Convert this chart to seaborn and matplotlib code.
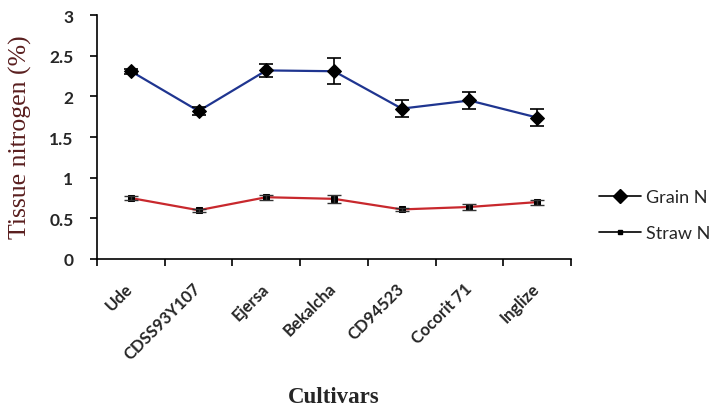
import matplotlib
matplotlib.use("Agg")
import matplotlib.pyplot as plt
import matplotlib.transforms as mtransforms
import seaborn as sns
import pandas as pd
import numpy as np
from matplotlib.lines import Line2D

cultivars = ["Ude", "CDSS93Y107", "Ejersa", "Bekalcha", "CD94523", "Cocorit 71", "Inglize"]
grain_n = [2.31, 1.82, 2.32, 2.31, 1.85, 1.95, 1.74]
grain_err = [0.03, 0.05, 0.08, 0.16, 0.10, 0.10, 0.10]
straw_n = [0.75, 0.60, 0.76, 0.74, 0.61, 0.64, 0.70]
straw_err = [0.02, 0.02, 0.03, 0.05, 0.02, 0.04, 0.03]

sns.set_style("ticks")
plt.rcParams['font.family'] = ['Lato', 'DejaVu Sans']

pos = np.arange(len(cultivars))
df = pd.DataFrame({
    "pos": np.concatenate([pos, pos]),
    "value": grain_n + straw_n,
    "series": ["Grain N"] * len(pos) + ["Straw N"] * len(pos),
})

fig = plt.figure(figsize=(7.15, 4.14), dpi=100)
ax = fig.add_axes([0.1357, 0.372, 0.663, 0.589])

sns.lineplot(data=df[df.series == "Grain N"], x="pos", y="value", ax=ax,
             color="#1f3590", lw=1.6, marker="D", markersize=7,
             markerfacecolor="black", markeredgecolor="black", legend=False)
sns.lineplot(data=df[df.series == "Straw N"], x="pos", y="value", ax=ax,
             color="#c8282d", lw=1.6, marker="s", markersize=4,
             markerfacecolor="black", markeredgecolor="black", legend=False)
ax.errorbar(pos, grain_n, yerr=grain_err, fmt="none", ecolor="black",
            elinewidth=1.2, capsize=5, capthick=1.2)
ax.errorbar(pos, straw_n, yerr=straw_err, fmt="none", ecolor="#333333",
            elinewidth=1.0, capsize=5, capthick=1.0)

ax.set_xlim(-0.5, len(cultivars) - 0.5)
ax.set_ylim(0, 3)
ax.set_yticks([0, 0.5, 1, 1.5, 2, 2.5, 3])
ax.set_yticklabels(["0", "0.5", "1", "1.5", "2", "2.5", "3"],
                   fontweight="bold", fontsize=12.5)
ax.tick_params(axis="y", pad=12)
ax.set_xticks(np.arange(-0.5, len(cultivars), 1.0))
ax.set_xticklabels([])
ax.set_xticks(pos, minor=True)
ax.set_xticklabels(cultivars, minor=True, rotation=45, ha="right",
                   rotation_mode="anchor", fontweight="bold", fontsize=12)
ax.tick_params(axis="x", which="minor", length=0, pad=15)
offset = mtransforms.ScaledTranslation(-6 / 100, 0, fig.dpi_scale_trans)
for lab in ax.get_xticklabels(minor=True):
    lab.set_transform(lab.get_transform() + offset)
ax.tick_params(axis="both", which="major", length=5, width=1.2, color="black")
for s in ["left", "bottom"]:
    ax.spines[s].set_linewidth(1.2)
    ax.spines[s].set_color("black")
sns.despine(ax=ax)

ax.set_xlabel("")
ax.set_ylabel("")
fig.text(0.028, 0.669, "Tissue nitrogen (%)", rotation=90, ha="center", va="center",
         family="Liberation Serif", fontsize=18.5, color="#5a1f1f")
fig.text(0.467, 0.041, "Cultivars", ha="center", va="center",
         family="Liberation Serif", fontweight="bold", fontsize=16.5)

handles = [
    Line2D([], [], color="black", lw=1.2, marker="D", markersize=7,
           markerfacecolor="black"),
    Line2D([], [], color="black", lw=1.2, marker="s", markersize=3,
           markerfacecolor="black"),
]
fig.legend(handles, ["Grain N", "Straw N"], loc="center left",
           bbox_to_anchor=(0.838, 0.478), frameon=False, fontsize=13,
           handlelength=2.3, labelspacing=1.1, handletextpad=0.3,
           borderpad=0, borderaxespad=0)

fig.savefig("out.png", dpi=100)
